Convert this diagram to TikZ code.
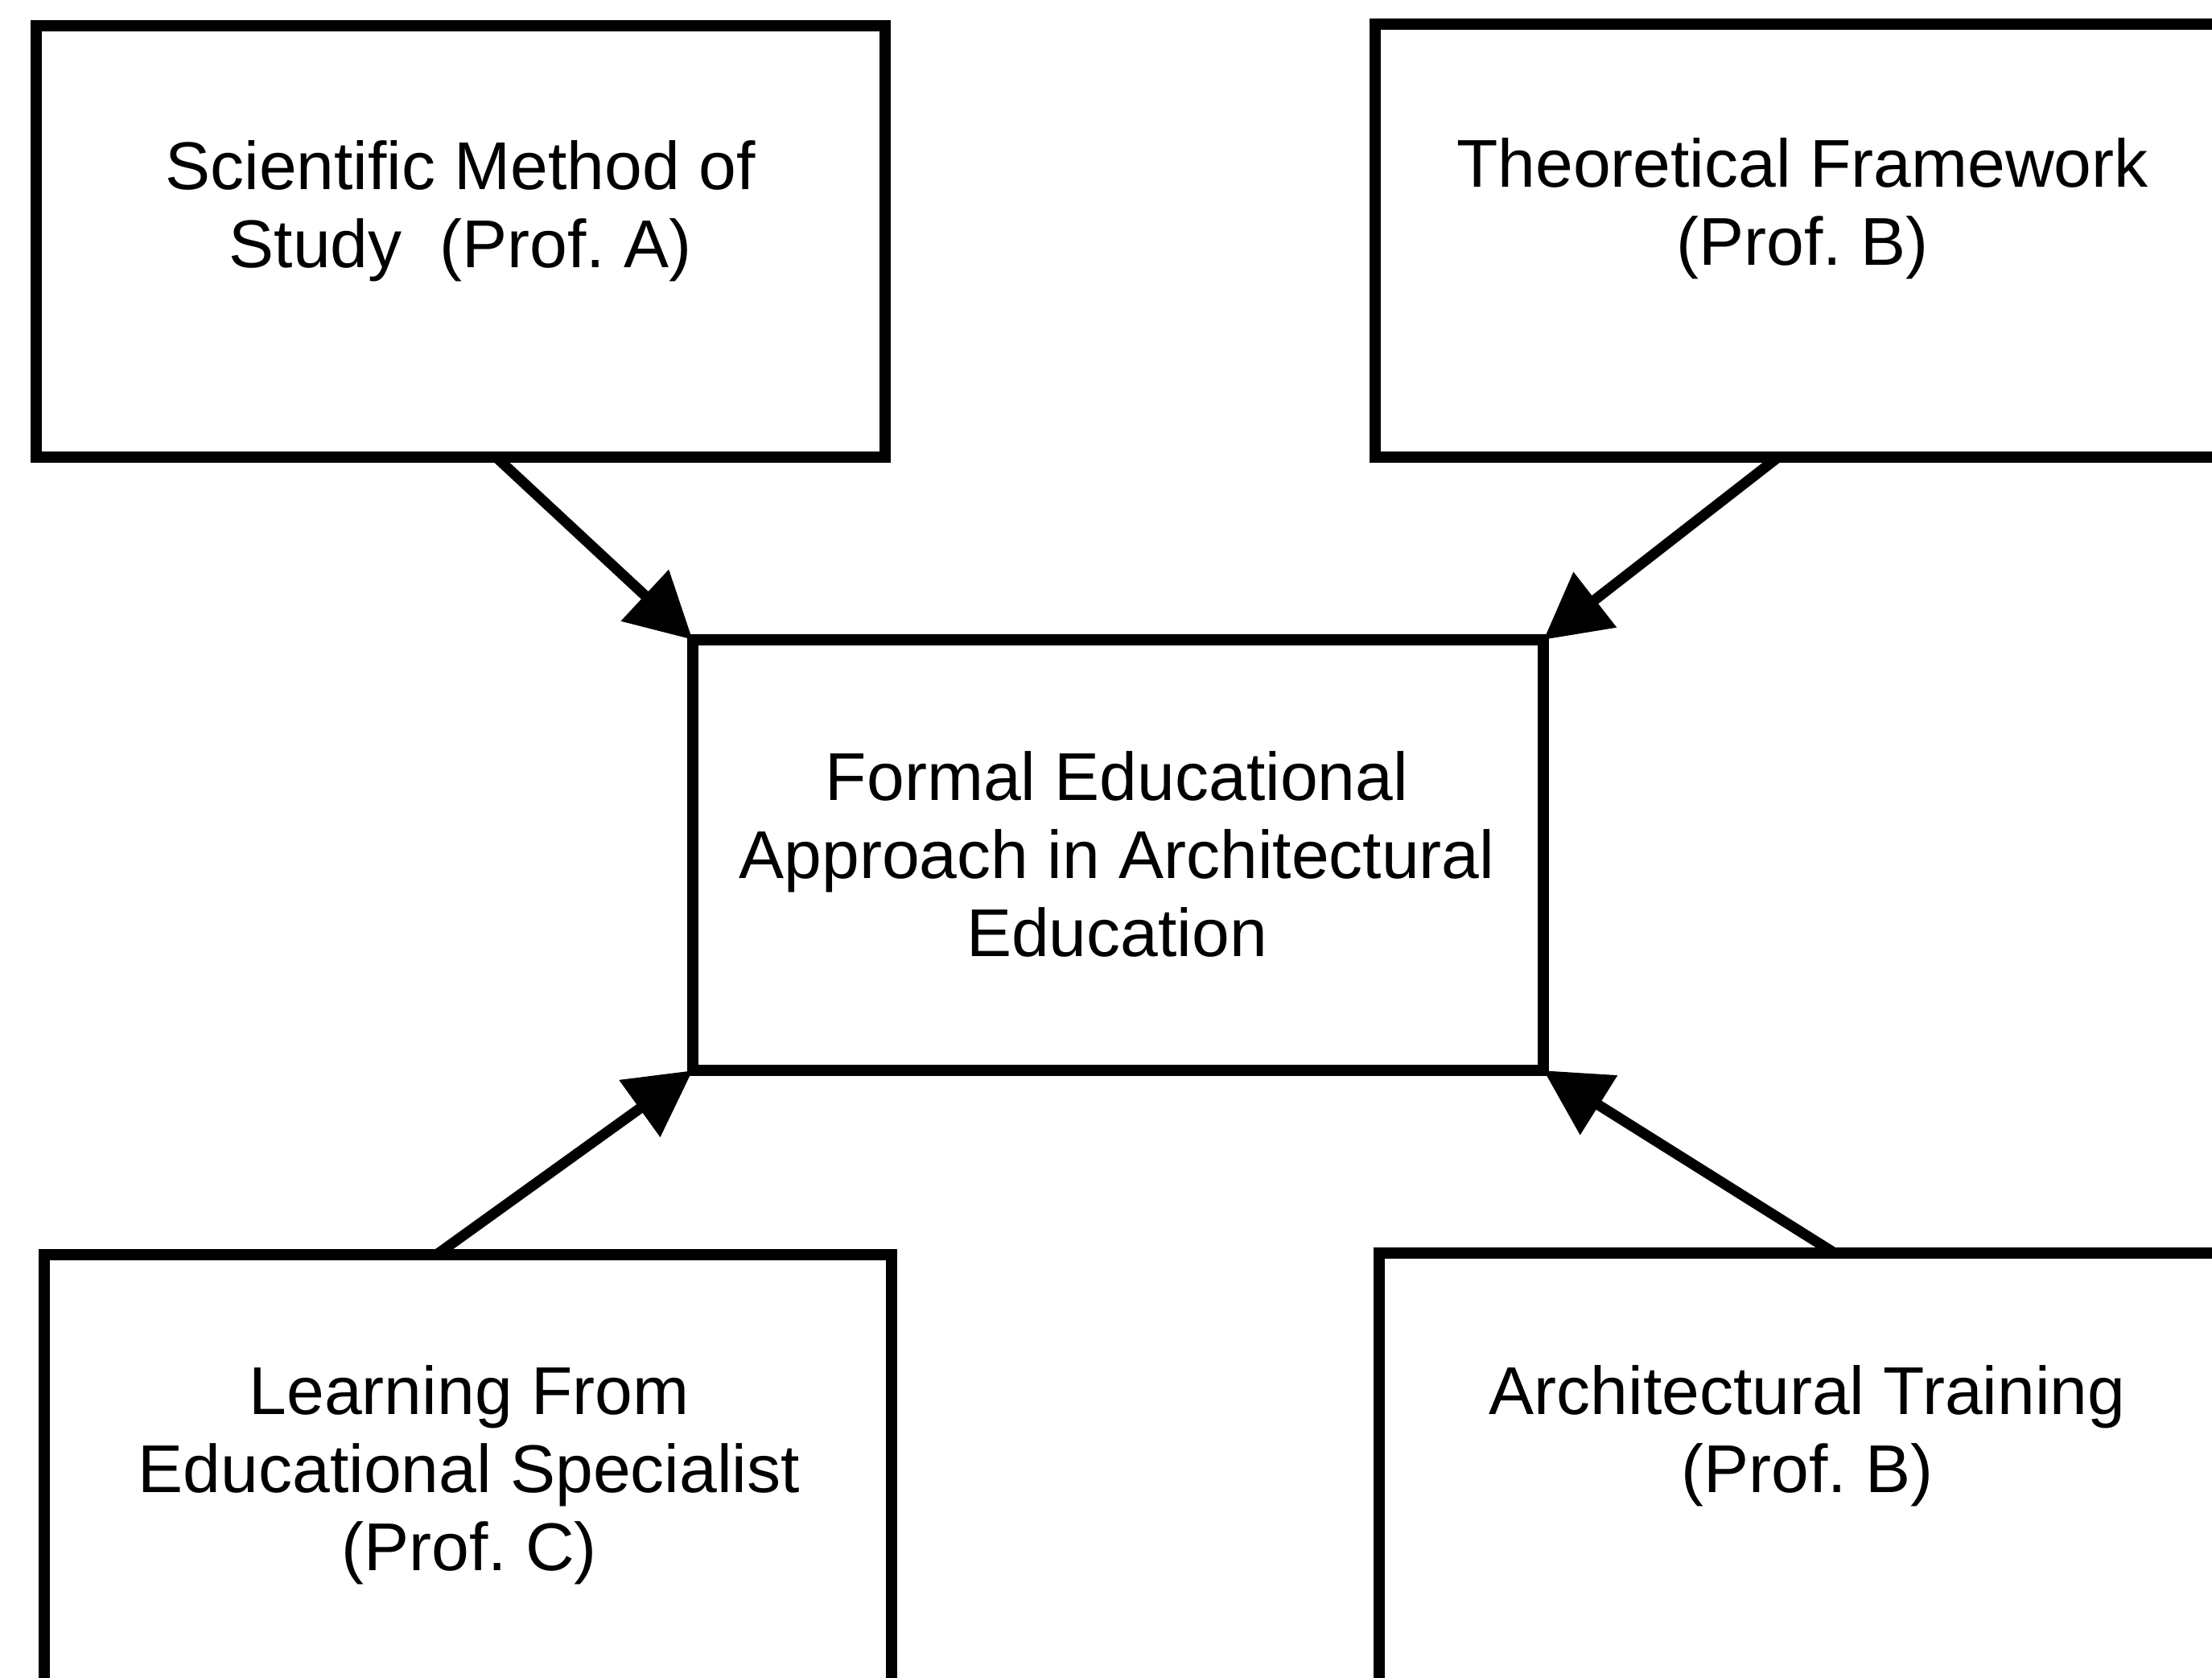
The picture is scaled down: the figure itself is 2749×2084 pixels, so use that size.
\documentclass[tikz,border=0pt]{standalone}
\usepackage{fontspec}
\setmainfont{Liberation Sans}
\usetikzlibrary{arrows.meta,calc}
\begin{document}
\begin{tikzpicture}[x=0.01cm, y=-0.01cm,
  box/.style={draw, line width=0.14cm, inner sep=0pt, outer sep=0pt},
  label/.style={anchor=base, align=center, inner sep=0pt,
    font=\fontsize{23.9pt}{27.5pt}\selectfont\frenchspacing},
  arr/.style={line width=0.13cm, -{Triangle[length=0.81cm, width=0.84cm]}}]
  % page frame
  \useasboundingbox (0,0) rectangle (2749,2084);
  \fill[white] (0,0) rectangle (2749,2084);
  \clip (0,0) rectangle (2749,2084);

  % boxes
  \node[box, minimum width=10.55cm, minimum height=5.36cm] (tl) at (572.5,300) {};
  \node[box, minimum width=10.62cm, minimum height=5.38cm] (tr) at (2240,299) {};
  \node[box, minimum width=10.57cm, minimum height=5.35cm] (c)  at (1389.5,1062.5) {};
  \node[box, minimum width=10.53cm, minimum height=5.36cm] (bl) at (581.5,1827) {};
  \node[box, minimum width=10.64cm, minimum height=5.36cm] (br) at (2246,1825) {};

  % texts (placed by the baseline of their last line)
  \node[label] (tltext) at (572,332) {Scientific Method of\\Study\ \ (Prof. A)};
  \node[label] (trtext) at (2240,329) {Theoretical Framework\\(Prof. B)};
  \node[label] (ctext) at (1388,1188) {Formal Educational\\Approach in Architectural\\Education};
  \node[label] (bltext) at (583,1951) {Learning From\\Educational Specialist\\(Prof. C)};
  \node[label] (brtext) at (2246,1854) {Architectural Training\\(Prof. B)};

  % connectors
  \draw[arr] ($(tl.south west)+(572,0)$) -- (c.north west);
  \draw[arr] ($(tr.south west)+(501,0)$) -- (c.north east);
  \draw[arr] ($(bl.north west)+(488,0)$) -- (c.south west);
  \draw[arr] ($(br.north west)+(566,0)$) -- (c.south east);
\end{tikzpicture}
\end{document}
